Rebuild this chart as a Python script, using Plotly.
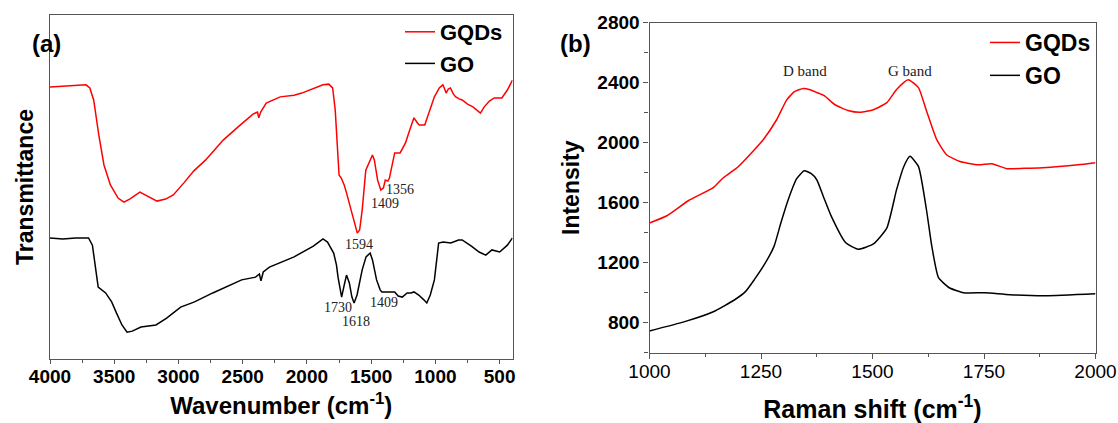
import plotly.graph_objects as go

# ---------------- FTIR data (panel a) ----------------
ftir_wn_gqds = [4000, 3900, 3800, 3720, 3690, 3660, 3620, 3580, 3530, 3470, 3425, 3380, 3300, 3240,
                3167, 3100, 3040, 2958, 2880, 2790, 2650, 2520, 2420, 2385, 2375, 2360, 2317, 2208,
                2100, 2040, 1950, 1875, 1830, 1800, 1780, 1765, 1750, 1733, 1710, 1692, 1660, 1630,
                1608, 1590, 1570, 1542, 1510, 1490, 1475, 1450, 1425, 1405, 1390, 1370, 1358, 1335,
                1317, 1275, 1233, 1200, 1167, 1140, 1125, 1083, 1040, 1008, 970, 942, 925, 917, 900,
                883, 860, 842, 815, 792, 750, 708, 680, 650, 620, 580, 542, 483, 440, 400]
ftir_t_gqds = [79.1, 79.3, 79.4, 79.7, 78.8, 75.3, 65.1, 56.4, 50.6, 46.8, 45.6, 46.5, 48.5, 47.4,
               45.9, 46.5, 47.7, 51.2, 54.7, 57.8, 63.7, 68.0, 71.2, 71.8, 70.1, 71.8, 74.4, 76.2,
               76.7, 77.3, 78.5, 79.7, 79.9, 78.8, 72.4, 60.8, 53.5, 52.6, 50.6, 48.3, 43.9, 39.2,
               36.6, 37.5, 43.3, 54.9, 57.8, 59.3, 57.8, 52.0, 49.1, 49.7, 52.0, 51.7, 52.6, 56.4,
               59.9, 59.9, 62.8, 66.6, 70.1, 68.6, 68.0, 68.0, 72.4, 76.2, 78.8, 79.7, 78.2, 77.3, 78.5,
               78.8, 77.0, 76.2, 75.6, 75.3, 74.1, 73.3, 72.4, 71.5, 73.3, 75.0, 75.9, 75.9, 78.2, 81.1]

ftir_wn_go = [4000, 3900, 3800, 3700, 3670, 3625, 3567, 3520, 3483, 3440, 3400, 3360, 3292, 3175,
              3092, 2983, 2875, 2733, 2508, 2400, 2370, 2358, 2340, 2292, 2100, 1950, 1875, 1840,
              1792, 1770, 1758, 1740, 1730, 1710, 1692, 1670, 1650, 1633, 1610, 1570, 1540, 1508,
              1490, 1458, 1430, 1417, 1370, 1317, 1290, 1258, 1220, 1190, 1167, 1130, 1090, 1067,
              1040, 1008, 990, 975, 940, 880, 820, 792, 720, 660, 608, 560, 500, 483, 440, 400]
ftir_t_go = [35.2, 34.9, 35.2, 35.2, 33.1, 20.9, 19.2, 16.6, 13.4, 9.9, 7.8, 8.1, 9.3, 9.9,
             11.9, 15.1, 16.6, 19.2, 23.0, 23.8, 24.7, 22.7, 25.3, 26.7, 29.7, 32.8, 34.9, 34.0,
             30.8, 27.3, 23.8, 19.5, 18.0, 21.5, 24.4, 22.1, 18.0, 16.3, 18.6, 25.9, 29.7, 30.8,
             28.8, 23.0, 20.1, 19.5, 19.5, 19.5, 18.3, 18.0, 19.2, 19.2, 19.5, 18.6, 17.2, 16.3,
             18.6, 23.0, 28.8, 33.7, 34.0, 33.7, 34.6, 34.6, 32.8, 31.1, 30.2, 31.7, 31.1, 31.7, 33.1, 35.2]

ftir_labels = ["1356", "1409", "1594", "1730", "1618", "1409"]
ftir_label_x = [1275, 1392, 1592, 1758, 1617, 1400]
ftir_label_y = [49.4, 45.3, 33.4, 15.1, 10.8, 16.3]

# ---------------- Raman data (panel b) ----------------
raman_x_gqds = [1000, 1039, 1087, 1143, 1165, 1199, 1231, 1255, 1285, 1308, 1325, 1345, 1360, 1375,
                1391, 1416, 1445, 1472, 1502, 1532, 1554, 1580, 1603, 1621, 1644, 1666, 1696, 1737,
                1768, 1801, 1850, 1882, 1961, 2000]
raman_y_gqds = [1465, 1513, 1613, 1700, 1765, 1840, 1940, 2020, 2153, 2287, 2340, 2362, 2353, 2335,
                2315, 2253, 2215, 2203, 2220, 2267, 2355, 2420, 2367, 2213, 2020, 1920, 1875, 1853,
                1860, 1827, 1830, 1833, 1853, 1867]

raman_x_go = [1000, 1079, 1143, 1191, 1215, 1235, 1258, 1279, 1295, 1311, 1330, 1347, 1362, 1375,
              1390, 1408, 1440, 1468, 1502, 1532, 1554, 1570, 1584, 1603, 1621, 1633, 1648, 1672,
              1704, 1752, 1808, 1888, 2000]
raman_y_go = [745, 807, 873, 953, 1007, 1087, 1190, 1307, 1470, 1620, 1760, 1813, 1795, 1753,
              1640, 1507, 1333, 1290, 1325, 1430, 1687, 1840, 1909, 1842, 1553, 1309, 1100, 1033,
              1000, 1000, 987, 980, 993]

raman_labels = ["D band", "G band"]
raman_label_x = [1349, 1584]
raman_label_y = [2478, 2478]

# ---------------- layout geometry (screen pixels) ----------------
W, H = 1118, 423


def sx(p):
    return p / W


def sy(p):
    return 1 - p / H


SANS = "Liberation Sans, Arial, sans-serif"
SERIF = "Liberation Serif, Times New Roman, serif"
FRAME = "#555555"

fig = go.Figure()

fig.add_trace(go.Scatter(x=ftir_wn_gqds, y=ftir_t_gqds, mode="lines", name="GQDs",
                         line=dict(color="#ff0000", width=1.5), xaxis="x", yaxis="y", legend="legend"))
fig.add_trace(go.Scatter(x=ftir_wn_go, y=ftir_t_go, mode="lines", name="GO",
                         line=dict(color="#000000", width=1.5), xaxis="x", yaxis="y", legend="legend"))
fig.add_trace(go.Scatter(x=raman_x_gqds, y=raman_y_gqds, mode="lines", name="GQDs",
                         line=dict(color="#ff0000", width=1.5, shape="spline", smoothing=0.5),
                         xaxis="x2", yaxis="y2", legend="legend2"))
fig.add_trace(go.Scatter(x=raman_x_go, y=raman_y_go, mode="lines", name="GO",
                         line=dict(color="#000000", width=1.5, shape="spline", smoothing=0.5),
                         xaxis="x2", yaxis="y2", legend="legend2"))

annotations = []
for t, x, y in zip(ftir_labels, ftir_label_x, ftir_label_y):
    annotations.append(dict(text=t, x=x, y=y, xref="x", yref="y", showarrow=False,
                            font=dict(family=SERIF, size=14, color="#222")))
for t, x, y in zip(raman_labels, raman_label_x, raman_label_y):
    annotations.append(dict(text=t, x=x, y=y, xref="x2", yref="y2", showarrow=False,
                            font=dict(family=SERIF, size=15, color="#222")))
annotations.append(dict(text="(a)", x=sx(30), y=sy(28), xref="paper", yref="paper", showarrow=False,
                        font=dict(family=SANS, size=24, color="black", weight="bold")))
annotations.append(dict(text="(b)", x=sx(575), y=sy(28), xref="paper", yref="paper", showarrow=False,
                        font=dict(family=SANS, size=24, color="black", weight="bold")))

fig.update_layout(
    width=W, height=H,
    margin=dict(l=0, r=0, t=0, b=0),
    paper_bgcolor="white", plot_bgcolor="white",
    font=dict(family=SANS, color="black"),
    xaxis=dict(domain=[sx(50), sx(512.5)], range=[4000, 400], anchor="y",
               showline=True, mirror=True, linecolor=FRAME, linewidth=1.2,
               ticks="outside", ticklen=4, tickcolor=FRAME, dtick=500, tick0=0,
               minor=dict(dtick=250, ticks="outside", ticklen=3, tickcolor=FRAME),
               showgrid=False, zeroline=False, ticklabelstandoff=-4,
               tickfont=dict(family=SANS, size=19, color="black", weight="bold"),
               title=dict(text="Wavenumber (cm<sup>-1</sup>)", standoff=11,
                          font=dict(family=SANS, size=24, color="black", weight="bold")),
               automargin=False),
    yaxis=dict(domain=[sy(359), sy(15)], range=[0, 100], anchor="x",
               showline=True, mirror=True, linecolor=FRAME, linewidth=1.2,
               showticklabels=False, ticks="", showgrid=False, zeroline=False,
               title=dict(text="Transmittance", standoff=8,
                          font=dict(family=SANS, size=23, color="black", weight="bold")),
               automargin=False),
    xaxis2=dict(domain=[sx(649.5), sx(1095.5)], range=[1000, 2000], anchor="y2",
                showline=True, mirror=True, linecolor=FRAME, linewidth=1.2,
                ticks="outside", ticklen=5, tickcolor=FRAME, dtick=250, tick0=0,
                minor=dict(dtick=125, ticks="outside", ticklen=3, tickcolor=FRAME),
                showgrid=False, zeroline=False, ticklabelstandoff=-4,
                tickfont=dict(family=SANS, size=19, color="black"),
                title=dict(text="Raman shift (cm<sup>-1</sup>)", standoff=19,
                           font=dict(family=SANS, size=25, color="black", weight="bold")),
                automargin=False),
    yaxis2=dict(domain=[sy(352.7), sy(22.7)], range=[600, 2800], anchor="x2",
                showline=True, mirror=True, linecolor=FRAME, linewidth=1.2,
                ticks="outside", ticklen=5, tickcolor=FRAME, dtick=400, tick0=0,
                minor=dict(dtick=200, ticks="outside", ticklen=4, tickcolor=FRAME),
                showgrid=False, zeroline=False,
                tickfont=dict(family=SANS, size=19, color="black", weight="bold"),
                title=dict(text="Intensity", standoff=11,
                           font=dict(family=SANS, size=23, color="black", weight="bold")),
                automargin=False),
    legend=dict(x=sx(400), y=sy(11), xanchor="left", yanchor="top",
                bgcolor="rgba(0,0,0,0)", borderwidth=0, tracegroupgap=0,
                font=dict(family=SANS, size=22, color="black", weight="bold")),
    legend2=dict(x=sx(985), y=sy(21), xanchor="left", yanchor="top",
                 bgcolor="rgba(0,0,0,0)", borderwidth=0, tracegroupgap=0,
                 font=dict(family=SANS, size=23, color="black", weight="bold")),
    annotations=annotations,
)

# remove the default page margin so the 1118x423 figure fills the window exactly
fig.write_html("out.html",
               config={"displayModeBar": False},
               post_script="document.body.style.margin='0';document.body.style.overflow='hidden';")
